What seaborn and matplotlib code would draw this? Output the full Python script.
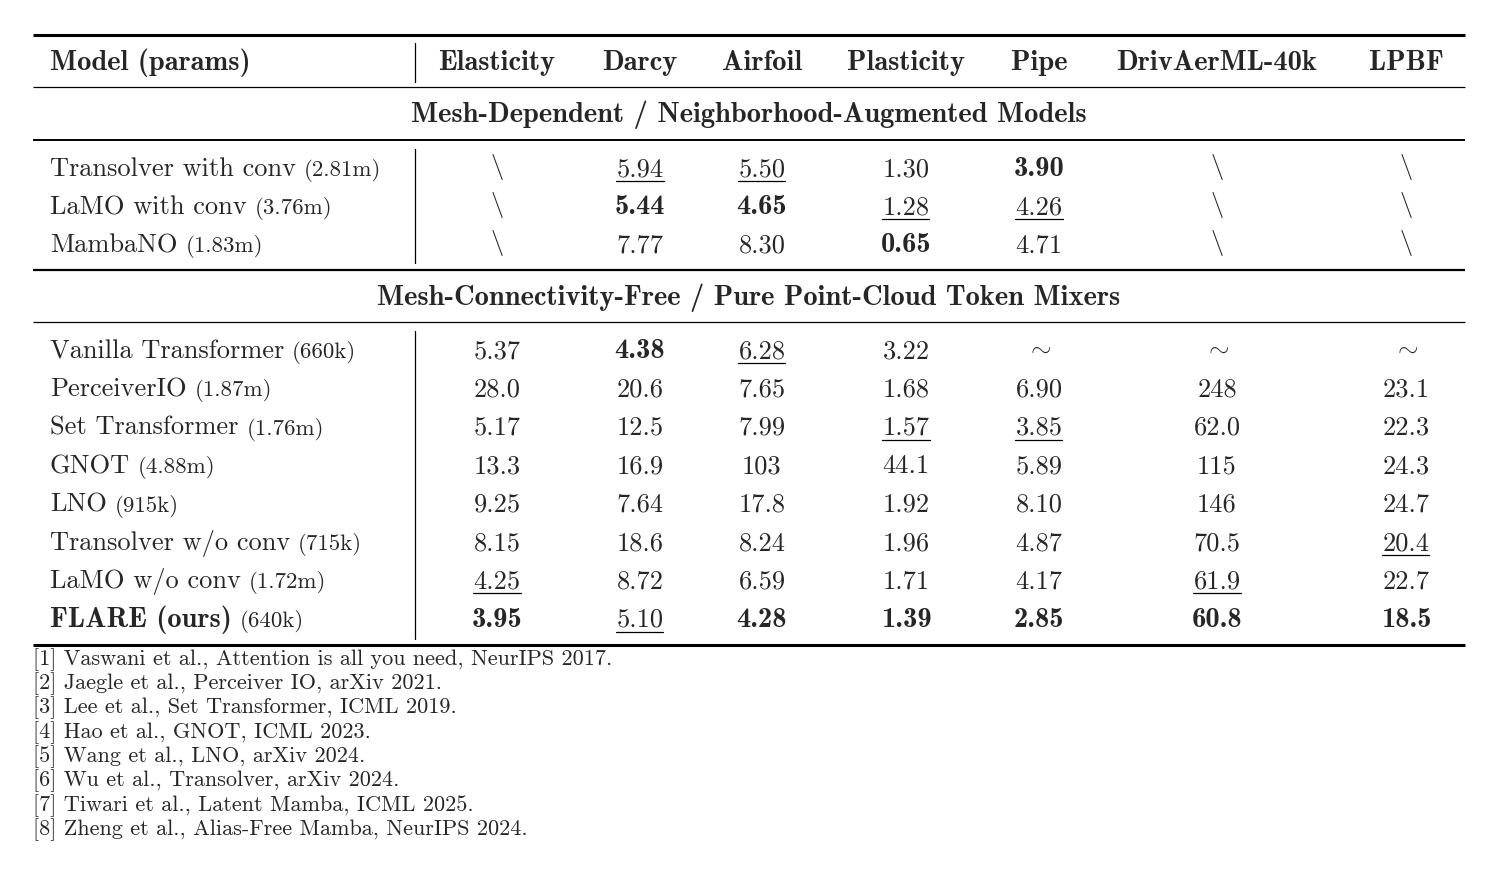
import matplotlib
matplotlib.use("Agg")
import matplotlib.pyplot as plt
import seaborn as sns

# Table content
columns = ["Elasticity", "Darcy", "Airfoil", "Plasticity", "Pipe", "DrivAerML-40k", "LPBF"]
header_first = "Model (params)"

mesh_title = "Mesh-Dependent / Neighborhood-Augmented Models"
mesh_models = ["Transolver with conv", "LaMO with conv", "MambaNO"]
mesh_params = ["(2.81m)", "(3.76m)", "(1.83m)"]
mesh_values = [
    ["\\", "5.94", "5.50", "1.30", "3.90", "\\", "\\"],
    ["\\", "5.44", "4.65", "1.28", "4.26", "\\", "\\"],
    ["\\", "7.77", "8.30", "0.65", "4.71", "\\", "\\"],
]

free_title = "Mesh-Connectivity-Free / Pure Point-Cloud Token Mixers"
free_models = ["Vanilla Transformer", "PerceiverIO", "Set Transformer", "GNOT", "LNO",
               "Transolver w/o conv", "LaMO w/o conv", "FLARE (ours)"]
free_params = ["(660k)", "(1.87m)", "(1.76m)", "(4.88m)", "(915k)", "(715k)", "(1.72m)", "(640k)"]
free_values = [
    ["5.37", "4.38", "6.28", "3.22", "~", "~", "~"],
    ["28.0", "20.6", "7.65", "1.68", "6.90", "248", "23.1"],
    ["5.17", "12.5", "7.99", "1.57", "3.85", "62.0", "22.3"],
    ["13.3", "16.9", "103", "44.1", "5.89", "115", "24.3"],
    ["9.25", "7.64", "17.8", "1.92", "8.10", "146", "24.7"],
    ["8.15", "18.6", "8.24", "1.96", "4.87", "70.5", "20.4"],
    ["4.25", "8.72", "6.59", "1.71", "4.17", "61.9", "22.7"],
    ["3.95", "5.10", "4.28", "1.39", "2.85", "60.8", "18.5"],
]
highlight_model = "FLARE (ours)"

footnotes = [
    "[1] Vaswani et al., Attention is all you need, NeurIPS 2017.",
    "[2] Jaegle et al., Perceiver IO, arXiv 2021.",
    "[3] Lee et al., Set Transformer, ICML 2019.",
    "[4] Hao et al., GNOT, ICML 2023.",
    "[5] Wang et al., LNO, arXiv 2024.",
    "[6] Wu et al., Transolver, arXiv 2024.",
    "[7] Tiwari et al., Latent Mamba, ICML 2025.",
    "[8] Zheng et al., Alias-Free Mamba, NeurIPS 2024.",
]

# Layout (pixels)
W, H = 1499, 880
X_LEFT, X_RIGHT = 33, 1465
X_NAME = 50
X_SEP = 415
COL_X = [497, 640, 762, 906, 1039, 1217, 1406]
FS = 19.0
FS_BOLD = 20.5
FS_SMALL = 16.5
FS_NOTE = 16.0
ROMAN = "cmr10"
BOLD = "cmb10"
SPECIAL = {"\\": r"$\backslash$", "~": r"$\sim$"}

sns.set_theme(style="white")
plt.rcParams["mathtext.fontset"] = "cm"
plt.rcParams["axes.unicode_minus"] = False

fig = plt.figure(figsize=(W / 100, H / 100), dpi=100)
ax = fig.add_axes([0, 0, 1, 1])
ax.set_xlim(0, W)
ax.set_ylim(H, 0)
ax.axis("off")
renderer = fig.canvas.get_renderer()
inv = ax.transData.inverted()


def px(fs):
    return fs * 100 / 72


def baseline(yc, fs):
    # centre of capitals -> baseline
    return yc + 0.683 * px(fs) / 2


def edges(t):
    bb = t.get_window_extent(renderer)
    return inv.transform((bb.x0, bb.y0))[0], inv.transform((bb.x1, bb.y0))[0]


def rule(y, lw):
    ax.plot([X_LEFT, X_RIGHT], [y, y], color="black", lw=lw, solid_capstyle="butt")


def vsep(y0, y1):
    ax.plot([X_SEP, X_SEP], [y0, y1], color="black", lw=0.9)


def rank_marks(values):
    # best -> bold, second best -> underline, per column within a block
    marks = [["" for _ in r] for r in values]
    for j in range(len(values[0])):
        nums = [(float(r[j]), i) for i, r in enumerate(values) if r[j] not in SPECIAL]
        nums.sort()
        if len(nums) > 1:
            marks[nums[0][1]][j] = "bold"
            marks[nums[1][1]][j] = "under"
    return marks


def draw_block(models, params, values, y0, step):
    marks = rank_marks(values)
    for i, (m, p, row) in enumerate(zip(models, params, values)):
        yc = y0 + i * step
        yb = baseline(yc, FS)
        if m == highlight_model:
            t = ax.text(X_NAME, yb, m, fontsize=FS_BOLD, family=BOLD, va="baseline", ha="left")
        else:
            t = ax.text(X_NAME, yb, m, fontsize=FS, family=ROMAN, va="baseline", ha="left")
        _, x1 = edges(t)
        ax.text(x1 + 8, yb, p, fontsize=FS_SMALL, family=ROMAN, va="baseline", ha="left")
        for j, v in enumerate(row):
            if v in SPECIAL:
                ax.text(COL_X[j], yc, SPECIAL[v], fontsize=FS, va="center", ha="center")
                continue
            if marks[i][j] == "bold":
                ax.text(COL_X[j], yb, v, fontsize=FS_BOLD, family=BOLD, va="baseline", ha="center")
                continue
            tv = ax.text(COL_X[j], yb, v, fontsize=FS, family=ROMAN, va="baseline", ha="center")
            if marks[i][j] == "under":
                xl, xr = edges(tv)
                ax.plot([xl, xr], [yb + 5, yb + 5], color="black", lw=0.9)


# header
rule(35, 2.2)
yb = baseline(61, FS)
ax.text(X_NAME, yb, header_first, fontsize=FS_BOLD, family=BOLD, va="baseline")
for x, c in zip(COL_X, columns):
    ax.text(x, yb, c, fontsize=FS_BOLD, family=BOLD, va="baseline", ha="center")
vsep(43, 82)
rule(87, 0.9)

# block 1
ax.text((X_LEFT + X_RIGHT) / 2, baseline(113, FS), mesh_title, fontsize=FS_BOLD, family=BOLD,
        va="baseline", ha="center")
rule(140, 1.4)
draw_block(mesh_models, mesh_params, mesh_values, 167, 38.2)
vsep(149, 263)
rule(270, 1.6)

# block 2
ax.text((X_LEFT + X_RIGHT) / 2, baseline(296, FS), free_title, fontsize=FS_BOLD, family=BOLD,
        va="baseline", ha="center")
rule(322, 0.9)
draw_block(free_models, free_params, free_values, 349, 38.4)
vsep(331, 639)
rule(645, 2.2)

# footnotes
for k, note in enumerate(footnotes):
    ax.text(X_LEFT, 665 + k * 24.3, note, fontsize=FS_NOTE,
            family=ROMAN, va="baseline", ha="left")

fig.savefig("out.png", dpi=100, facecolor="white")
